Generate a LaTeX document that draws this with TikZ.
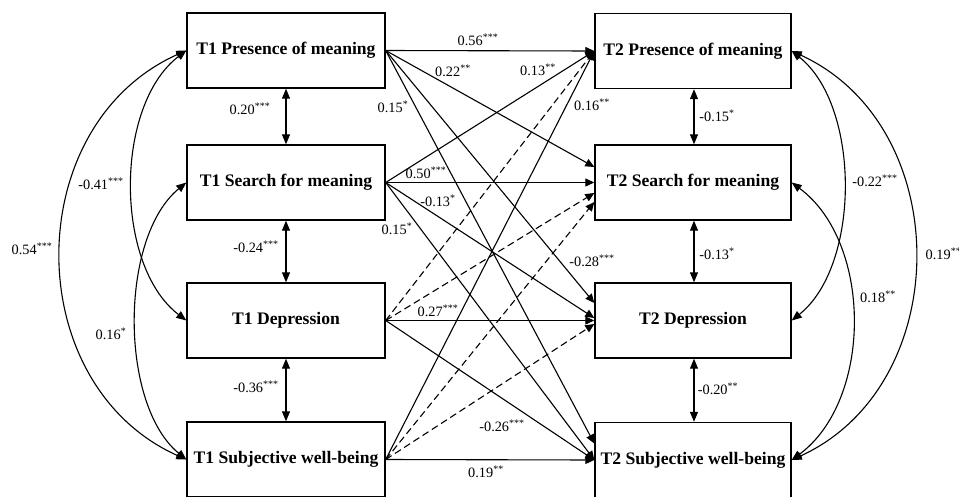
\documentclass[tikz,border=0pt]{standalone}
\usepackage{fontspec}
\setmainfont{Liberation Serif}
\usetikzlibrary{arrows.meta}
\newcommand{\sigst}[1]{\textsuperscript{#1}}
\begin{document}
\begin{tikzpicture}[x=1pt,y=-1pt,
  box/.style={draw, line width=1.4pt, minimum height=75pt, inner sep=0pt, font=\fontsize{17.6}{20}\selectfont\bfseries},
  lbox/.style={box, minimum width=198pt},
  rbox/.style={box, minimum width=196pt},
  reg/.style={line width=1.1pt, -{Triangle[length=9pt,width=8pt]}},
  dreg/.style={reg, dash pattern=on 7pt off 4pt},
  cov/.style={line width=1.1pt, {Triangle[length=10pt,width=8pt]}-{Triangle[length=10pt,width=8pt]}},
  lab/.style={font=\fontsize{14.3}{16}\selectfont, inner sep=0pt}
]
\useasboundingbox (0,0) rectangle (959,496);
\fill[white] (0,0) rectangle (959,496);

% boxes
\node[lbox] (L1) at (286,50.5) {T1 Presence of meaning};
\node[lbox] (L2) at (286,182.5) {T1 Search for meaning};
\node[lbox] (L3) at (286,320.5) {T1 Depression};
\node[lbox] (L4) at (286,459.5) {T1 Subjective well-being};
\node[rbox] (R1) at (693,51) {T2 Presence of meaning};
\node[rbox] (R2) at (693,182.5) {T2 Search for meaning};
\node[rbox] (R3) at (693,320.5) {T2 Depression};
\node[rbox] (R4) at (693,460) {T2 Subjective well-being};

% cross-lagged paths
\draw[reg] (L1.east) -- (R1.west);
\draw[reg] (L1.east) -- ([yshift=15.5pt]R2.west);
\draw[reg] (L1.east) -- ([yshift=17.5pt]R3.west);
\draw[reg] (L1.east) -- ([yshift=16.5pt]R4.west);
\draw[reg] (L2.east) -- (R1.west);
\draw[reg] (L2.east) -- (R2.west);
\draw[reg] (L2.east) -- ([yshift=2.5pt]R3.west);
\draw[reg] (L2.east) -- (R4.west);
\draw[dreg] (L3.east) -- (R1.west);
\draw[dreg] (L3.east) -- ([yshift=-10.5pt]R2.west);
\draw[reg] (L3.east) -- (R3.west);
\draw[reg] (L3.east) -- (R4.west);
\draw[reg] (L4.east) -- (R1.west);
\draw[dreg] (L4.east) -- ([yshift=-19.5pt]R2.west);
\draw[dreg] (L4.east) -- ([yshift=-3.5pt]R3.west);
\draw[reg] (L4.east) -- (R4.west);

% vertical covariances
\draw[cov] (L1.south) -- (L2.north);
\draw[cov] (L2.south) -- (L3.north);
\draw[cov] (L3.south) -- (L4.north);
\draw[cov] ([xshift=1pt]R1.south) -- ([xshift=1pt]R2.north);
\draw[cov] ([xshift=1pt]R2.south) -- ([xshift=1pt]R3.north);
\draw[cov] ([xshift=1pt]R3.south) -- ([xshift=1pt]R4.north);

% curved covariances left
\draw[cov] (L1.west) .. controls +(-167,75) and +(-167,-75) .. (L4.west);
\draw[cov] (L1.west) .. controls +(-72,55) and +(-72,-55) .. (L3.west);
\draw[cov] (L2.west) .. controls +(-67,55) and +(-67,-55) .. (L4.west);
% curved covariances right
\draw[cov] (R1.east) .. controls +(164,75) and +(164,-75) .. (R4.east);
\draw[cov] (R1.east) .. controls +(69,55) and +(69,-55) .. (R3.east);
\draw[cov] (R2.east) .. controls +(81,60) and +(81,-60) .. (R4.east);

% labels
\node[lab] (a1) at (478,40) {0.56\sigst{***}};
\node[lab] (a2) at (453,71) {0.22\sigst{**}};
\node[lab] (a3) at (538,70) {0.13\sigst{**}};
\node[lab] (a4) at (393,107) {0.15\sigst{*}};
\node[lab] (a5) at (592,105) {0.16\sigst{**}};
\node[lab] (a6) at (426,173) {0.50\sigst{***}};
\node[lab] (a7) at (438,201) {-0.13\sigst{*}};
\node[lab] (a8) at (397,229) {0.15\sigst{*}};
\node[lab] (a9) at (592,261) {-0.28\sigst{***}};
\node[lab] (a10) at (438,311) {0.27\sigst{***}};
\node[lab] (a11) at (502,426) {-0.26\sigst{***}};
\node[lab] (a12) at (486,472) {0.19\sigst{**}};

\node[lab] (b1) at (250,109) {0.20\sigst{***}};
\node[lab] (b2) at (256,247) {-0.24\sigst{***}};
\node[lab] (b3) at (256,387) {-0.36\sigst{***}};
\node[lab] (b4) at (717,116) {-0.15\sigst{*}};
\node[lab] (b5) at (717,254) {-0.13\sigst{*}};
\node[lab] (b6) at (718,389) {-0.20\sigst{**}};

\node[lab] (c1) at (101,184) {-0.41\sigst{***}};
\node[lab] (c2) at (32,249) {0.54\sigst{***}};
\node[lab] (c3) at (111,334) {0.16\sigst{*}};
\node[lab] (c4) at (875,181) {-0.22\sigst{***}};
\node[lab] (c5) at (878,297) {0.18\sigst{**}};
\node[lab] (c6) at (943.5,254) {0.19\sigst{**}};
\end{tikzpicture}
\end{document}
